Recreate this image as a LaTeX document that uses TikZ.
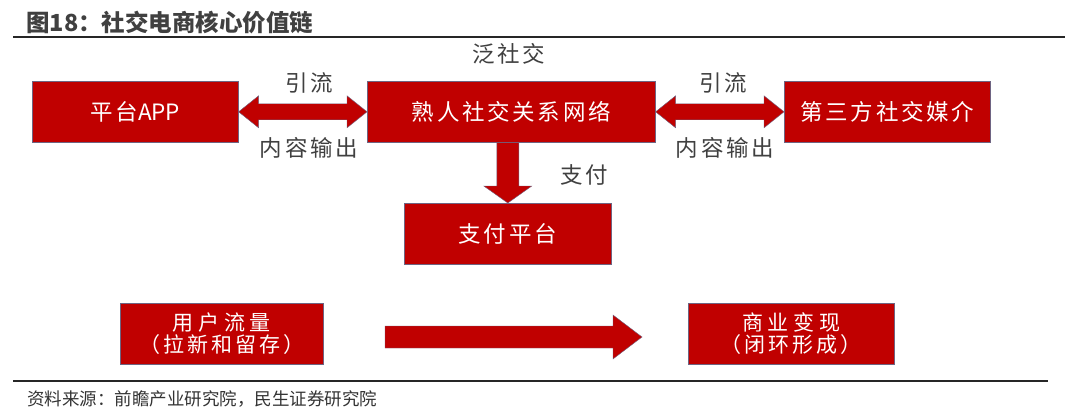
\documentclass[tikz,border=0pt]{standalone}
\usepackage{fontspec}
\setmainfont{Noto Sans CJK SC}
\newfontfamily\boxfont[LetterSpace=12]{Noto Sans CJK SC}
\newfontfamily\lineafont[LetterSpace=22]{Noto Sans CJK SC}
\newfontfamily\linebfont[LetterSpace=14]{Noto Sans CJK SC}
\newfontfamily\plainfont{Noto Sans CJK SC}
\usetikzlibrary{calc}
\definecolor{boxred}{RGB}{192,0,0}
\definecolor{boxedge}{RGB}{110,100,130}
\definecolor{txtgray}{RGB}{64,64,64}
\tikzset{
  redbox/.style={draw=boxedge, line width=0.6pt, fill=boxred, text=white, inner sep=0pt, anchor=north west},
  bigtext/.style={font=\boxfont\fontsize{22.5}{26}\selectfont, text=white},
  smalltext/.style={font=\fontsize{21}{21.5}\selectfont, align=center, text=white},
  lbl/.style={font=\boxfont\fontsize{22.5}{26}\selectfont, text=txtgray, inner sep=0pt},
  arr/.style={draw=boxedge, line width=0.4pt, fill=boxred}
}
\begin{document}
\begin{tikzpicture}[x=1pt,y=-1pt]
\useasboundingbox (0,0) rectangle (1080,420);
% title and rules
\node[anchor=west, inner sep=0pt, text=txtgray, font=\plainfont\bfseries\fontsize{23.5}{28}\selectfont] (title) at (26,23) {图18：社交电商核心价值链};
\coordinate (r1a) at (13,37);
\coordinate (r1b) at (1065,37);
\draw[line width=1.6pt, black!85] (r1a) -- (r1b);
\coordinate (r2a) at (13,381);
\coordinate (r2b) at (1048,381);
\draw[line width=1.6pt, black!85] (r2a) -- (r2b);
\node[anchor=west, inner sep=0pt, text=black!80, font=\plainfont\fontsize{17.5}{21}\selectfont] (src) at (27,399) {资料来源：前瞻产业研究院，民生证券研究院};

% boxes
\node[redbox, minimum width=206pt, minimum height=61pt] (app) at (32,81) {};
\node[bigtext] at (app.center) {平台\plainfont APP};
\node[redbox, minimum width=288pt, minimum height=61pt] (net) at (367,81) {};
\node[bigtext] at (net.center) {熟人社交关系网络};
\node[redbox, minimum width=206pt, minimum height=61pt] (med) at (784,81) {};
\node[bigtext] at (med.center) {第三方社交媒介};
\node[redbox, minimum width=207pt, minimum height=61pt] (pay) at (404,203) {};
\node[bigtext] at (pay.center) {支付平台};
\node[redbox, minimum width=203pt, minimum height=61pt] (user) at (120,303) {};
\node[smalltext] at (user.center) {{\lineafont 用户流量}\\{\linebfont （拉新和留存）}};
\node[redbox, minimum width=206pt, minimum height=61pt] (biz) at (688,303) {};
\node[smalltext] at (biz.center) {{\lineafont 商业变现}\\{\linebfont （闭环形成）}};

% double arrows
\draw[arr] (app.east) -- ++(20,-16) -- ++(0,8) -- ($(net.west)+(-20,-8)$) -- ++(0,-8) -- (net.west)
  -- ++(-20,16) -- ++(0,-8) -- ($(app.east)+(20,8)$) -- ++(0,8) -- cycle;
\draw[arr] (net.east) -- ++(20,-16) -- ++(0,8) -- ($(med.west)+(-20,-8)$) -- ++(0,-8) -- (med.west)
  -- ++(-20,16) -- ++(0,-8) -- ($(net.east)+(20,8)$) -- ++(0,8) -- cycle;

% down arrow
\coordinate (dtop) at (pay.north |- net.south);
\draw[arr] ($(dtop)+(-11,0)$) -- ($(pay.north)+(-11,-17)$) -- ++(-13,0) -- (pay.north)
  -- ($(pay.north)+(24,-17)$) -- ++(-13,0) -- ($(dtop)+(11,0)$) -- cycle;

% bottom arrow
\coordinate (bstart) at (385,337);
\coordinate (btip) at (642,337);
\draw[arr] ($(bstart)+(0,-11)$) -- ($(btip)+(-29,-11)$) -- ++(0,-11) -- (btip) -- ($(btip)+(-29,22)$)
  -- ++(0,-11) -- ($(bstart)+(0,11)$) -- cycle;

% labels
\node[lbl] (l0) at (509,54) {泛社交};
\node[lbl] (l1) at (309,83) {引流};
\node[lbl] (l2) at (309,148) {内容输出};
\node[lbl] (l3) at (723,83) {引流};
\node[lbl] (l4) at (725,148) {内容输出};
\node[lbl] (l5) at (584,175) {支付};
\end{tikzpicture}
\end{document}
